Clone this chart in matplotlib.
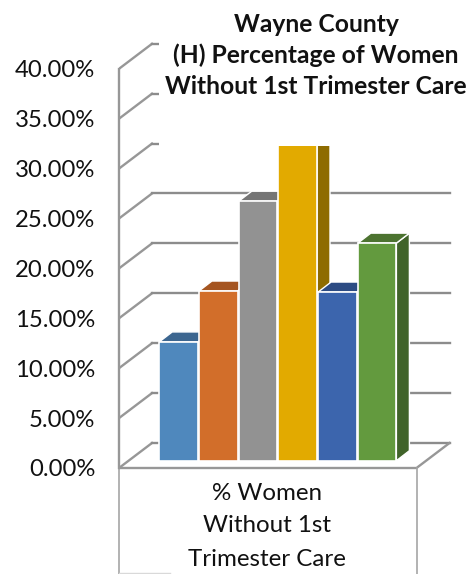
import matplotlib.pyplot as plt
from matplotlib.patches import Polygon, Rectangle

categories = ["Series 1", "Series 2", "Series 3", "Series 4", "Series 5", "Series 6"]
values = [11.9, 17.0, 26.0, 33.0, 16.9, 21.8]
front_colors = ["#4f88bd", "#d26e2a", "#929292", "#e2aa00", "#3c65ad", "#639a3e"]
top_colors = ["#3c6690", "#a55521", "#757575", "#ab8100", "#2c4b83", "#4c7330"]
side_colors = ["#335a80", "#8e4a1a", "#666666", "#8e6c00", "#274274", "#406329"]
tick_values = [0, 5, 10, 15, 20, 25, 30, 35, 40]
tick_labels = ["0.00%", "5.00%", "10.00%", "15.00%", "20.00%", "25.00%", "30.00%", "35.00%", "40.00%"]
title_lines = ["Wayne County", "(H) Percentage of Women", "Without 1st Trimester Care"]
category_lines = ["% Women", "Without 1st", "Trimester Care"]

plt.rcParams["font.family"] = ["Lato", "DejaVu Sans"]
GRAY = "#979797"

W, H = 469, 574
PX = 9.98  # pixels per percentage point
fig = plt.figure(figsize=(W / 100, H / 100), dpi=100)
ax = fig.add_axes([119 / W, 0, 1 - 119 / W, 1])
ax.set_xlim(119, W)
ax.set_ylim(-(H - 468) / PX, 468 / PX)


def py(pixel_y):
    return (468 - pixel_y) / PX


# wall depth and bar depth
dx, dy = 33, 25 / PX
bar_dx, bar_dy = 13, 10 / PX
right = 416.5

for v in tick_values:
    ax.plot([119, 119 + dx], [v, v + dy], color=GRAY, lw=1.7, zorder=1)
    ax.plot([119 + dx, right + dx], [v + dy, v + dy], color="#8c8c8c", lw=1.7, zorder=1)

# floor and the category box
ax.plot([119, right, right + dx], [0, 0, dy], color=GRAY, lw=1.7, zorder=2)
ax.plot([119, 119], [py(574), 0], color="#a6a6a6", lw=1.2, zorder=2, clip_on=False)
ax.plot([right, right], [0, py(574)], color="#a6a6a6", lw=1.2, zorder=2)
ax.plot([119, 170], [py(573), py(573)], color="#d9d9d9", lw=1, zorder=2)

# bars
bar_base = py(460.7)
lefts = [159.2, 198.9, 238.7, 278.4, 318.1, 357.8]
width = 38.6
for i in range(len(categories)):
    x0, x1 = lefts[i], lefts[i] + width
    top = bar_base + values[i]
    ax.add_patch(Polygon([(x1, bar_base), (x1 + bar_dx, bar_base + bar_dy),
                          (x1 + bar_dx, top + bar_dy), (x1, top)],
                         fc=side_colors[i], ec="white", lw=1, zorder=3))
    ax.add_patch(Polygon([(x0, top), (x0 + bar_dx, top + bar_dy),
                          (x1 + bar_dx, top + bar_dy), (x1, top)],
                         fc=top_colors[i], ec="white", lw=1, zorder=3))
    ax.bar(x0, values[i], width=width, bottom=bar_base, align="edge",
           color=front_colors[i], edgecolor="white", lw=1.2, zorder=3)

# the plot is cut off above the gridline stubs
ax.add_patch(Rectangle((158.5, py(146)), W - 158.5, py(0) - py(146), fc="white", ec="none", zorder=4))

ax.set_yticks(tick_values, tick_labels)
ax.tick_params(axis="y", length=0, pad=17, labelsize=17.2, labelcolor="#111111")
ax.set_xticks([])
for name in ["top", "right", "bottom"]:
    ax.spines[name].set_visible(False)
ax.spines["left"].set_bounds(0, 40)
ax.spines["left"].set_color(GRAY)
ax.spines["left"].set_linewidth(1.7)
ax.patch.set_alpha(0)

for line, y in zip(title_lines, [24, 55, 87]):
    ax.text(316, py(y), line, ha="center", va="center", fontsize=17.7, fontweight="bold", color="#111111", zorder=5)
for line, y in zip(category_lines, [493, 526, 559]):
    ax.text(267, py(y), line, ha="center", va="center", fontsize=17.4, color="#111111", zorder=5)

fig.savefig("out.png", dpi=100)
